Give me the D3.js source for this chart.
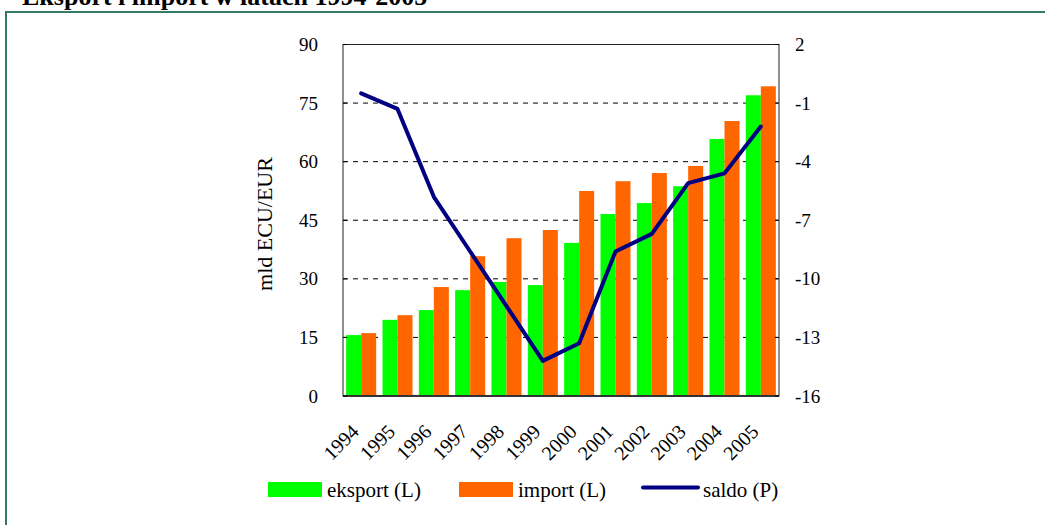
<!DOCTYPE html>
<html>
<head>
<meta charset="utf-8">
<script src="https://cdn.jsdelivr.net/npm/d3@7"></script>
<style>
  body { margin: 0; background: #fff; }
  svg { display: block; font-family: "Liberation Serif", "Times New Roman", serif; }
</style>
</head>
<body>
<svg id="chart" width="1045" height="525"></svg>
<script>
// data
var years = ["1994", "1995", "1996", "1997", "1998", "1999", "2000", "2001", "2002", "2003", "2004", "2005"];
var eksport = [15.6, 19.5, 22.0, 27.1, 29.2, 28.4, 39.2, 46.6, 49.4, 53.7, 65.8, 77.0];
var imports = [16.1, 20.7, 27.9, 35.8, 40.4, 42.5, 52.5, 55.0, 57.1, 58.9, 70.4, 79.3];
var saldo = [-0.5, -1.3, -5.8, -8.6, -11.4, -14.2, -13.3, -8.6, -7.7, -5.1, -4.6, -2.2];
var leftTicks = [0, 15, 30, 45, 60, 75, 90];
var rightTicks = [2, -1, -4, -7, -10, -13, -16];
var seriesNames = ["eksport (L)", "import (L)", "saldo (P)"];

var svg = d3.select("#chart");

var pLeft = 343, pRight = 779, pTop = 44.5, pBottom = 396;

// outer frame (only top and left visible)
svg.append("line").attr("x1", 6).attr("x2", 1045).attr("y1", 12).attr("y2", 12)
  .attr("stroke", "#357a62").attr("stroke-width", 2);
svg.append("line").attr("x1", 6).attr("x2", 6).attr("y1", 11).attr("y2", 525)
  .attr("stroke", "#357a62").attr("stroke-width", 2);

// title, cut off at the top
svg.append("text")
  .attr("x", 22).attr("y", 5)
  .attr("font-size", "26px")
  .attr("font-weight", "bold")
  .text("Eksport i import w latach 1994-2005");

var x0 = d3.scaleBand().domain(years).range([pLeft, pRight])
  .paddingInner(0.174).paddingOuter(0.087);
var x1 = d3.scaleBand().domain(["eksport", "import"]).range([0, x0.bandwidth()]);
var yL = d3.scaleLinear().domain([0, 90]).range([pBottom, pTop]);
var yR = d3.scaleLinear().domain([-16, 2]).range([pBottom, pTop]);

// gridlines
svg.append("g")
  .selectAll("line")
  .data(leftTicks.filter(function (d) { return d > 0; }))
  .enter().append("line")
  .attr("x1", pLeft).attr("x2", pRight)
  .attr("y1", function (d) { return yL(d); })
  .attr("y2", function (d) { return yL(d); })
  .attr("stroke", "#000")
  .attr("stroke-width", 1)
  .attr("stroke-dasharray", "5,5");

// bars
var groups = svg.append("g").selectAll("g")
  .data(years)
  .enter().append("g")
  .attr("transform", function (d) { return "translate(" + x0(d) + ",0)"; });

groups.append("rect")
  .attr("x", x1("eksport"))
  .attr("width", x1.bandwidth())
  .attr("y", function (d, i) { return yL(eksport[i]); })
  .attr("height", function (d, i) { return pBottom - yL(eksport[i]); })
  .attr("fill", "#00ff00");

groups.append("rect")
  .attr("x", x1("import"))
  .attr("width", x1.bandwidth())
  .attr("y", function (d, i) { return yL(imports[i]); })
  .attr("height", function (d, i) { return pBottom - yL(imports[i]); })
  .attr("fill", "#ff6600");

// plot frame
svg.append("rect")
  .attr("x", pLeft).attr("y", pTop)
  .attr("width", pRight - pLeft).attr("height", pBottom - pTop)
  .attr("fill", "none").attr("stroke", "#222").attr("stroke-width", 1);
svg.append("line").attr("x1", pLeft).attr("x2", pRight).attr("y1", pBottom).attr("y2", pBottom)
  .attr("stroke", "#333").attr("stroke-width", 2);

// saldo line
var line = d3.line()
  .x(function (d, i) { return x0(years[i]) + x0.bandwidth() / 2; })
  .y(function (d) { return yR(d); });

svg.append("path")
  .datum(saldo)
  .attr("d", line)
  .attr("fill", "none")
  .attr("stroke", "#000080")
  .attr("stroke-width", 4)
  .attr("stroke-linejoin", "round")
  .attr("stroke-linecap", "round");

// axes (plain hyphen for negatives, like the original)
var axisL = svg.append("g")
  .attr("transform", "translate(" + pLeft + ",0)")
  .call(d3.axisLeft(yL).tickValues(leftTicks).tickSize(0).tickPadding(25)
    .tickFormat(function (d) { return String(d); }));
var axisR = svg.append("g")
  .attr("transform", "translate(" + pRight + ",0)")
  .call(d3.axisRight(yR).tickValues(rightTicks).tickSize(0).tickPadding(16)
    .tickFormat(function (d) { return String(d); }));
[axisL, axisR].forEach(function (a) {
  a.select(".domain").remove();
  a.selectAll("text")
    .attr("font-family", "Liberation Serif, Times New Roman, serif")
    .attr("font-size", "19px")
    .attr("fill", "#000");
});

// small inner tick marks
svg.append("g").selectAll("line")
  .data(leftTicks)
  .enter().append("line")
  .attr("x1", pLeft).attr("x2", pLeft + 4)
  .attr("y1", function (d) { return yL(d); }).attr("y2", function (d) { return yL(d); })
  .attr("stroke", "#000");
svg.append("g").selectAll("line")
  .data(rightTicks)
  .enter().append("line")
  .attr("x1", pRight - 4).attr("x2", pRight)
  .attr("y1", function (d) { return yR(d); }).attr("y2", function (d) { return yR(d); })
  .attr("stroke", "#000");

// x labels
svg.append("g").selectAll("text")
  .data(years)
  .enter().append("text")
  .attr("transform", function (d) {
    return "translate(" + (x0(d) + x0.bandwidth() / 2 - 11) + ",423) rotate(-45)";
  })
  .attr("text-anchor", "end")
  .attr("dy", "0.7em")
  .attr("font-size", "20px")
  .text(function (d) { return d; });

// y title
svg.append("text")
  .attr("transform", "translate(272,224) rotate(-90)")
  .attr("text-anchor", "middle")
  .attr("font-size", "22px")
  .text("mld ECU/EUR");

// legend
var lg = svg.append("g");
lg.append("rect").attr("x", 268).attr("y", 482).attr("width", 54).attr("height", 15).attr("fill", "#00ff00");
lg.append("text").attr("x", 327).attr("y", 497).attr("font-size", "21px").text(seriesNames[0]);
lg.append("rect").attr("x", 459).attr("y", 482).attr("width", 54).attr("height", 15).attr("fill", "#ff6600");
lg.append("text").attr("x", 518).attr("y", 497).attr("font-size", "21px").text(seriesNames[1]);
lg.append("line").attr("x1", 643).attr("x2", 698).attr("y1", 487.5).attr("y2", 487.5)
  .attr("stroke", "#000080").attr("stroke-width", 4).attr("stroke-linecap", "round");
lg.append("text").attr("x", 703).attr("y", 497).attr("font-size", "21px").text(seriesNames[2]);
</script>
</body>
</html>
